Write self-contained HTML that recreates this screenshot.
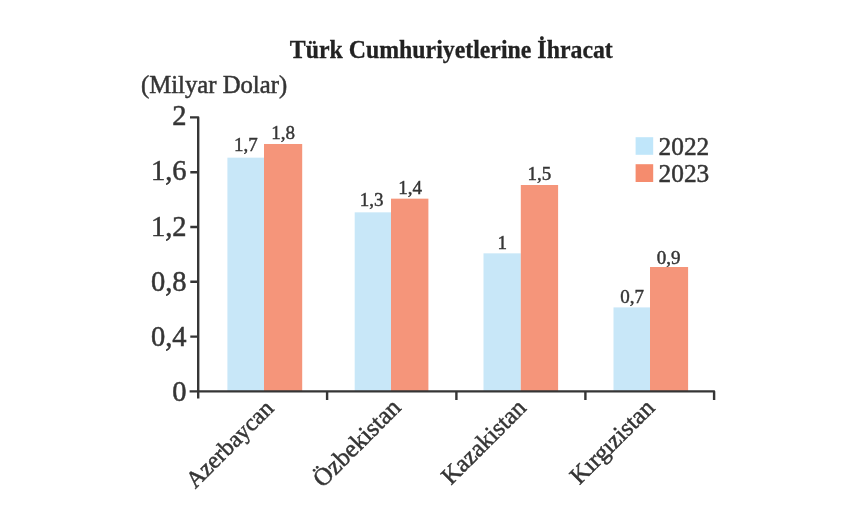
<!DOCTYPE html>
<html><head><meta charset="utf-8"><style>
html,body{margin:0;padding:0;background:#fff;width:851px;height:518px;overflow:hidden}
svg{display:block;font-family:"Liberation Serif",serif}
text{fill:#353535;stroke:#353535;stroke-width:0.5px}
svg{filter:blur(0.7px)}
</style></head><body>
<svg width="851" height="518" viewBox="0 0 851 518">
<rect x="227.4" y="157.66" width="36.60" height="233.74" fill="#c8e7f8"/>
<rect x="264.0" y="143.99" width="38.20" height="247.41" fill="#f5957a"/>
<rect x="354.7" y="212.33" width="36.30" height="179.07" fill="#c8e7f8"/>
<rect x="391.0" y="198.66" width="37.40" height="192.74" fill="#f5957a"/>
<rect x="483.5" y="253.33" width="37.30" height="138.07" fill="#c8e7f8"/>
<rect x="520.8" y="185.00" width="37.30" height="206.40" fill="#f5957a"/>
<rect x="613.5" y="307.40" width="36.50" height="84.00" fill="#c8e7f8"/>
<rect x="650.0" y="267.00" width="38.10" height="124.40" fill="#f5957a"/>
<path d="M190 117.4 H198.2 V398.5 M189.6 391.4 H714.1 V400.0 M190.3 172.20 H198.2 M190.3 227.00 H198.2 M190.3 281.80 H198.2 M190.3 336.60 H198.2 M327.1 391.4 V400.0 M456.4 391.4 V400.0 M585.4 391.4 V400.0" stroke="#353535" stroke-width="2.4" fill="none" stroke-linejoin="round" stroke-linecap="butt"/>
<text x="186.6" y="125.20" font-size="28.5" text-anchor="end">2</text>
<text x="186.6" y="180.40" font-size="28.5" text-anchor="end">1,6</text>
<text x="186.6" y="235.60" font-size="28.5" text-anchor="end">1,2</text>
<text x="186.6" y="290.80" font-size="28.5" text-anchor="end">0,8</text>
<text x="186.6" y="346.00" font-size="28.5" text-anchor="end">0,4</text>
<text x="186.6" y="401.20" font-size="28.5" text-anchor="end">0</text>
<text x="245.75" y="151.4" font-size="19" style="stroke-width:0.45px" text-anchor="middle">1,7</text>
<text x="283.1" y="139.2" font-size="19" style="stroke-width:0.45px" text-anchor="middle">1,8</text>
<text x="371.7" y="206.3" font-size="19" style="stroke-width:0.45px" text-anchor="middle">1,3</text>
<text x="410.05" y="194.3" font-size="19" style="stroke-width:0.45px" text-anchor="middle">1,4</text>
<text x="502.25" y="249.0" font-size="19" style="stroke-width:0.45px" text-anchor="middle">1</text>
<text x="539.45" y="179.8" font-size="19" style="stroke-width:0.45px" text-anchor="middle">1,5</text>
<text x="632.0" y="303.2" font-size="19" style="stroke-width:0.45px" text-anchor="middle">0,7</text>
<text x="668.55" y="264.15" font-size="19" style="stroke-width:0.45px" text-anchor="middle">0,9</text>
<rect x="635.6" y="137.2" width="17.6" height="17.6" fill="#c0e6fa"/>
<rect x="635.6" y="164.2" width="17.6" height="17.8" fill="#f58c6e"/>
<text x="0" y="0" font-size="26" transform="translate(658.6,155.0) scale(0.975,1)">2022</text>
<text x="0" y="0" font-size="26" transform="translate(658.6,182.4) scale(0.975,1)">2023</text>
<text x="0" y="0" font-size="25.8" transform="translate(141,92.8) scale(0.958,1)">(Milyar Dolar)</text>
<text x="0" y="0" font-size="25.5" font-weight="bold" style="fill:#222;stroke:#222;stroke-width:0.3px" transform="translate(289.8,58.3) scale(0.935,1)">Türk Cumhuriyetlerine İhracat</text>
<text x="0" y="0" font-size="23.6" text-anchor="end" transform="translate(274.8,409.7) rotate(-45)">Azerbaycan</text>
<text x="0" y="0" font-size="25" text-anchor="end" transform="translate(402.2,408.9) rotate(-45)">Özbekistan</text>
<text x="0" y="0" font-size="24.4" text-anchor="end" transform="translate(527.5,409.2) rotate(-45)">Kazakistan</text>
<text x="0" y="0" font-size="24.4" text-anchor="end" transform="translate(655.8,409.2) rotate(-45)">Kırgızistan</text>
</svg>
</body></html>
